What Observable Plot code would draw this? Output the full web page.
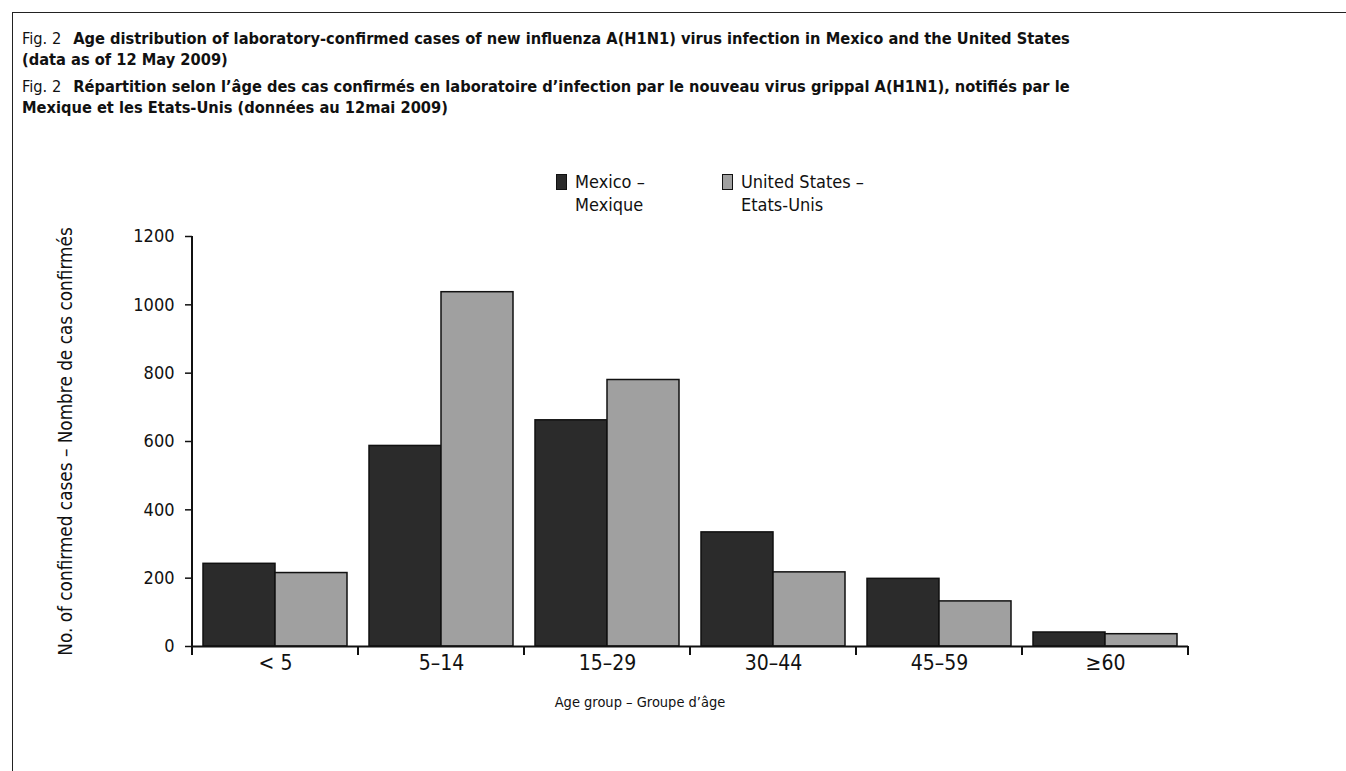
<!DOCTYPE html>
<html>
<head>
<meta charset="utf-8">
<script src="https://cdn.jsdelivr.net/npm/d3@7"></script>
<script src="https://cdn.jsdelivr.net/npm/@observablehq/plot@0.6"></script>
<style>
  html, body { margin: 0; padding: 0; background: #fff; }
  body { width: 1346px; height: 771px; position: relative; overflow: hidden;
         font-family: "DejaVu Sans Condensed", "Liberation Sans Narrow", sans-serif; color: #111; }
  #frame { position: absolute; left: 12px; top: 12px; width: 1400px; height: 800px;
           border-top: 1.5px solid #222; border-left: 1.5px solid #222; }
  #title { position: absolute; left: 22px; top: 28px; width: 1300px; height: 102px; font-size: 16.3px; line-height: 21px; }
  #title .line { white-space: nowrap; }
  #title .reg { font-weight: normal; margin-right: 12px; }
  #title b { font-weight: bold; }
  #title .p2 { margin-top: 6px; }
  #chart { position: absolute; left: 0; top: 130px; }
  #legend { position: absolute; top: 170px; left: 0; font-size: 18px; line-height: 23px; }
  .item { position: absolute; white-space: nowrap; }
  .sw { position: absolute; left: 0; top: 4px; width: 9px; height: 14px; border: 1.5px solid #111; }
  .lt { position: absolute; left: 19px; top: 0; }
  #xtitle { position: absolute; top: 694px; left: 0; width: 1280px; text-align: center; font-size: 14.5px; }
</style>
</head>
<body>
<div id="frame"></div>
<div id="title"></div>
<div id="chart"></div>
<div id="legend"></div>
<div id="xtitle"></div>
<script>
// ---- data ----
const ageGroups = ["< 5", "5–14", "15–29", "30–44", "45–59", "≥60"];
const seriesKeys = ["Mexico", "United States"];
const seriesLabels = [["Mexico –", "Mexique"], ["United States –", "Etats-Unis"]];
const mexicoCases = [242, 587, 662, 334, 198, 41];
const usCases = [215, 1037, 780, 217, 132, 36];
const yTicks = [0, 200, 400, 600, 800, 1000, 1200];
const seriesColors = ["#2b2b2b", "#a0a0a0"];

const figLabel = "Fig. 2";
const titleEnLines = ["Age distribution of laboratory-confirmed cases of new influenza A(H1N1) virus infection in Mexico and the United States",
                      "(data as of 12 May 2009)"];
const titleFrLines = ["Répartition selon l’âge des cas confirmés en laboratoire d’infection par le nouveau virus grippal A(H1N1), notifiés par le",
                      "Mexique et les Etats-Unis (données au 12mai 2009)"];
const yLabel = "No. of confirmed cases – Nombre de cas confirmés";
const xLabel = "Age group – Groupe d’âge";

// ---- title ----
const titleDiv = document.getElementById("title");
titleDiv.innerHTML =
  `<div class="line"><span class="reg">${figLabel}</span><b>${titleEnLines[0]}</b></div>` +
  `<div class="line"><b>${titleEnLines[1]}</b></div>` +
  `<div class="line p2"><span class="reg">${figLabel}</span><b>${titleFrLines[0]}</b></div>` +
  `<div class="line"><b>${titleFrLines[1]}</b></div>`;

// ---- data table ----
const data = ageGroups.flatMap((g, i) => [
  {group: g, series: seriesKeys[0], value: mexicoCases[i]},
  {group: g, series: seriesKeys[1], value: usCases[i]}
]);

const font = '"DejaVu Sans Condensed", "Liberation Sans Narrow", sans-serif';

const plot = Plot.plot({
  width: 1346,
  height: 641,
  marginTop: 106,
  marginLeft: 190,
  marginRight: 156,
  marginBottom: 125,
  style: {fontFamily: font, color: "#111", background: "transparent", overflow: "visible"},
  fx: {domain: ageGroups, padding: 0, label: null, axis: null},
  x: {domain: seriesKeys, paddingInner: 0, paddingOuter: 0.14, axis: null},
  y: {domain: [0, 1200], axis: null},
  color: {domain: seriesKeys, range: seriesColors},
  marks: [
    Plot.barY(data, {fx: "group", x: "series", y: "value", fill: "series", stroke: "#111", strokeWidth: 1.5}),
    Plot.axisY({ticks: yTicks, tickFormat: d => String(d), tickSize: 7, tickPadding: 11, fontSize: 18,
                stroke: "#111", strokeWidth: 1.5,
                label: yLabel, labelAnchor: "center", labelArrow: "none", labelOffset: 134}),
    Plot.ruleY([0], {stroke: "#111", strokeWidth: 2}),
    Plot.axisFx({anchor: "bottom", tickSize: 0, tickPadding: 9, fontSize: 21, label: null})
  ]
});
document.getElementById("chart").appendChild(plot);

// y-axis label font size
d3.select(plot).selectAll("[aria-label='y-axis label'] text").style("font-size", "18.8px");

// axis line and boundary ticks from the plot's own scales
const fx = plot.scale("fx");
const y = plot.scale("y");
const y0 = y.apply(0), yTop = y.apply(1200);
const bounds = ageGroups.map(g => fx.apply(g)).concat([fx.apply(ageGroups[ageGroups.length - 1]) + fx.bandwidth]);
const g = d3.select(plot).append("g").attr("stroke", "#111").attr("stroke-width", 2);
g.append("line").attr("x1", bounds[0]).attr("x2", bounds[0]).attr("y1", yTop).attr("y2", y0 + 9);
g.selectAll(".bt").data(bounds.slice(1)).join("line")
  .attr("x1", d => d).attr("x2", d => d).attr("y1", y0).attr("y2", y0 + 9);

// ---- legend ----
const legend = document.getElementById("legend");
const legendX = [fx.apply(ageGroups[2]) + 32, fx.apply(ageGroups[3]) + 32];
seriesKeys.forEach((k, i) => {
  const it = document.createElement("div");
  it.className = "item";
  it.style.left = legendX[i] + "px";
  it.innerHTML = `<div class="sw" style="background:${seriesColors[i]}"></div><div class="lt">${seriesLabels[i][0]}<br>${seriesLabels[i][1]}</div>`;
  legend.appendChild(it);
});

// ---- x title ----
document.getElementById("xtitle").textContent = xLabel;
</script>
</body>
</html>
